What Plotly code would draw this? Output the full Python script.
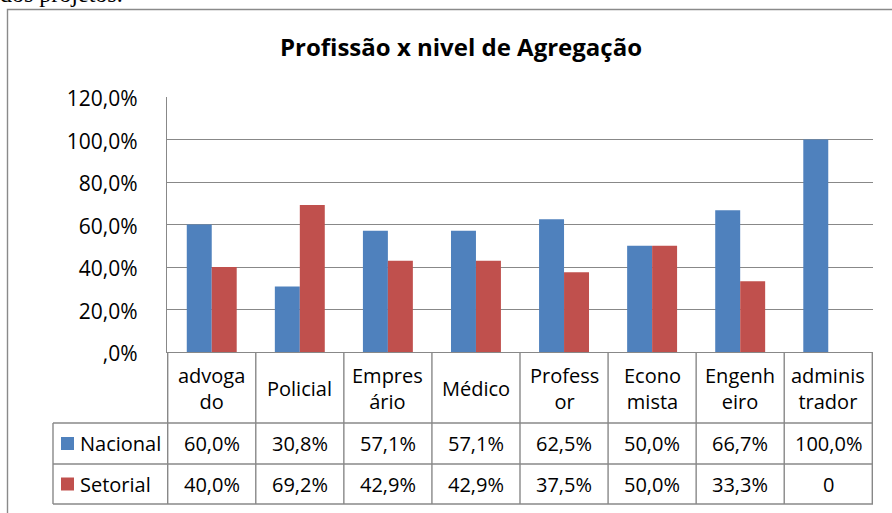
import plotly.graph_objects as go

# ---- data ----
categories = ["advogado", "Policial", "Empresário", "Médico", "Professor",
              "Economista", "Engenheiro", "administrador"]
category_labels = ["advoga<br>do", "Policial", "Empres<br>ário", "Médico",
                   "Profess<br>or", "Econo<br>mista", "Engenh<br>eiro", "adminis<br>trador"]
nacional = [0.600, 0.308, 0.571, 0.571, 0.625, 0.500, 0.667, 1.000]
setorial = [0.400, 0.692, 0.429, 0.429, 0.375, 0.500, 0.333, 0.0]
nacional_labels = ["60,0%", "30,8%", "57,1%", "57,1%", "62,5%", "50,0%", "66,7%", "100,0%"]
setorial_labels = ["40,0%", "69,2%", "42,9%", "42,9%", "37,5%", "50,0%", "33,3%", "0"]
series_names = ["Nacional", "Setorial"]
y_tick_vals = [0, 0.2, 0.4, 0.6, 0.8, 1.0, 1.2]
y_tick_labels = [",0%", "20,0%", "40,0%", "60,0%", "80,0%", "100,0%", "120,0%"]
title_text = "Profissão x nivel de Agregação"

# ---- styling ----
W, H = 892, 513
ML, MR, MT, MB = 167, 19, 97, 161
PW, PH = W - ML - MR, H - MT - MB
BLUE, RED = "#4F81BD", "#C0504D"
GRID = "#888888"
FONT = "Open Sans"
FS = 20


def px_x(px):
    return (px - ML) / PW


def px_y(py):
    return (H - MB - py) / PH


fig = go.Figure()
fig.add_bar(x=categories, y=nacional, name=series_names[0], marker_color=BLUE,
            marker_line_width=0)
fig.add_bar(x=categories, y=setorial, name=series_names[1], marker_color=RED,
            marker_line_width=0)

shapes = []
ln = dict(color=GRID, width=1.4)
# outer chart border (cropped on right/bottom)
shapes.append(dict(type="rect", xref="paper", yref="paper",
                   x0=px_x(7.5), x1=px_x(W + 20), y0=px_y(H + 20), y1=px_y(9.5),
                   line=dict(color="#8a8a8a", width=1.4), layer="below"))
# table row lines
row_lines = [423, 464, 504]
for ry in row_lines:
    shapes.append(dict(type="line", xref="paper", yref="paper",
                       x0=px_x(53), x1=1, y0=px_y(ry), y1=px_y(ry), line=ln))
# table column lines at category boundaries
for i in range(len(categories) + 1):
    shapes.append(dict(type="line", xref="x", yref="paper",
                       x0=i - 0.5, x1=i - 0.5, y0=0, y1=px_y(504), line=ln))
# legend column left border
shapes.append(dict(type="line", xref="paper", yref="paper",
                   x0=px_x(53), x1=px_x(53), y0=px_y(423), y1=px_y(504), line=ln))
# legend keys
for color, (r0, r1) in zip([BLUE, RED], [(423, 464), (464, 504)]):
    cy = (r0 + r1) / 2
    shapes.append(dict(type="rect", xref="paper", yref="paper",
                       x0=px_x(61), x1=px_x(74), y0=px_y(cy + 6.5), y1=px_y(cy - 6.5),
                       fillcolor=color, line=dict(width=0)))

annotations = []
txt = dict(family=FONT, size=FS, color="black")
for cat, lab in zip(categories, category_labels):
    annotations.append(dict(x=cat, xref="x", y=px_y(388), yref="paper", text=lab,
                            showarrow=False, font=txt, xanchor="center", yanchor="middle"))
for vals, (r0, r1) in zip([nacional_labels, setorial_labels], [(423, 464), (464, 504)]):
    cy = (r0 + r1) / 2
    for cat, lab in zip(categories, vals):
        annotations.append(dict(x=cat, xref="x", y=px_y(cy), yref="paper", text=lab,
                                showarrow=False, font=txt, xanchor="center", yanchor="middle"))
for name, (r0, r1) in zip(series_names, [(423, 464), (464, 504)]):
    cy = (r0 + r1) / 2
    annotations.append(dict(x=px_x(78), xref="paper", y=px_y(cy), yref="paper", text=name,
                            showarrow=False, font=txt, xanchor="left", yanchor="middle"))
# title
annotations.append(dict(x=px_x(460.5), xref="paper", y=px_y(46), yref="paper",
                        text="<b>" + title_text + "</b>", showarrow=False,
                        font=dict(family=FONT, size=24, color="black"),
                        xanchor="center", yanchor="middle"))
# cropped text above the chart (only its lower edge is visible)
annotations.append(dict(x=px_x(0), xref="paper", y=px_y(-6.5), yref="paper",
                        text="dos projetos.", showarrow=False,
                        font=dict(family="Liberation Serif", size=24, color="black"),
                        xanchor="left", yanchor="middle", xshift=-2))

fig.update_layout(
    width=W, height=H,
    margin=dict(l=ML, r=MR, t=MT, b=MB, pad=0),
    paper_bgcolor="white", plot_bgcolor="white",
    barmode="group", bargap=0.433, bargroupgap=0,
    showlegend=False,
    shapes=shapes, annotations=annotations,
    font=dict(family=FONT, size=FS, color="black"),
)
fig.update_xaxes(showticklabels=False, showgrid=False, showline=True,
                 linecolor=GRID, linewidth=1.4, ticks="", zeroline=False)
fig.update_yaxes(range=[0, 1.2], tickvals=y_tick_vals, ticktext=y_tick_labels,
                 showgrid=True, gridcolor=GRID, gridwidth=1.4, showline=True,
                 linecolor=GRID, linewidth=1.4, zeroline=False, ticks="",
                 ticklabelstandoff=24, ticklabelshift=2,
                 tickfont=dict(family=FONT, size=21, color="black"))

fig.write_html("out.html", config={"displayModeBar": False},
               post_script="document.body.style.margin='0px';document.body.style.overflow='hidden';")
